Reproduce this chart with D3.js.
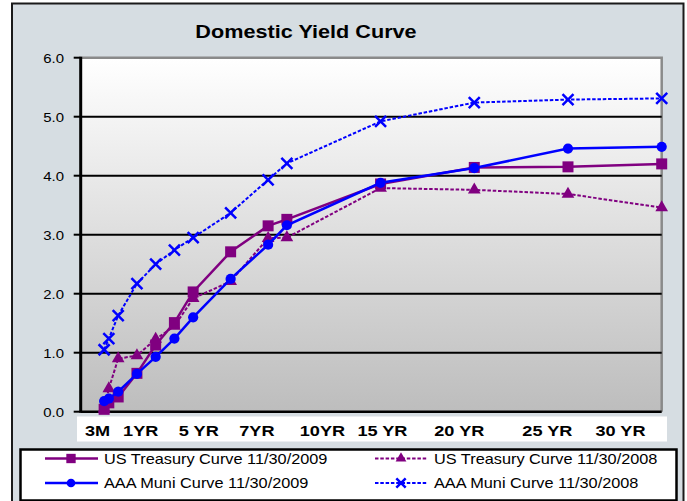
<!DOCTYPE html>
<html><head><meta charset="utf-8">
<script src="https://cdn.jsdelivr.net/npm/d3@7"></script>
<style>html,body{margin:0;padding:0;background:#fff;}svg{display:block;}</style>
</head><body>
<script>
const maturities   = [0.25, 0.5, 1, 2, 3, 4, 5, 7, 9, 10, 15, 20, 25, 30];
const treasury2009 = [0.04, 0.15, 0.25, 0.65, 1.13, 1.51, 2.03, 2.71, 3.15, 3.26, 3.86, 4.14, 4.15, 4.20];
const treasury2008 = [0.05, 0.39, 0.90, 0.95, 1.23, 1.45, 1.92, 2.21, 2.94, 2.95, 3.79, 3.76, 3.69, 3.46];
const muni2009     = [0.18, 0.22, 0.34, 0.64, 0.93, 1.24, 1.60, 2.25, 2.83, 3.16, 3.88, 4.13, 4.46, 4.49];
const muni2008     = [1.05, 1.24, 1.63, 2.17, 2.50, 2.74, 2.95, 3.37, 3.93, 4.21, 4.92, 5.24, 5.29, 5.31];
const seriesNames  = ["US Treasury Curve 11/30/2009", "US Treasury Curve 11/30/2008",
                      "AAA Muni Curve 11/30/2009", "AAA Muni Curve 11/30/2008"];
const xLabels      = ["3M", "1YR", "5 YR", "7YR", "10YR", "15 YR", "20 YR", "25 YR", "30 YR"];
const xLabelAt     = [-0.1, 2.2, 5.3, 8.4, 11.9, 15.1, 19.2, 23.9, 27.8];
const yTicks       = [0, 1, 2, 3, 4, 5, 6];
const title        = "Domestic Yield Curve";

const W = 687, H = 501;
const svg = d3.select("body").append("svg").attr("width", W).attr("height", H);
const FONT = "Arial, 'Liberation Sans', Helvetica, sans-serif";
const SX = 1.16;

function txt(g, x, y, s, o) {
  o = o || {};
  return g.append("text")
    .attr("transform", `translate(${x},${y}) scale(${o.sx || SX},1)`)
    .attr("text-anchor", o.anchor || "start")
    .attr("dominant-baseline", "central")
    .attr("font-family", FONT)
    .attr("font-size", o.size || 13)
    .attr("font-weight", o.weight || "normal")
    .attr("fill", "#000")
    .text(s);
}

// outer chart area
svg.append("rect").attr("x", 12).attr("y", 3.5).attr("width", 671.5).attr("height", 500)
  .attr("fill", "#d6dde2").attr("stroke", "#1a1a1a").attr("stroke-width", 2);

const x = d3.scaleLinear().domain([-1, 30]).range([80.7, 661.7]);
const y = d3.scaleLinear().domain([0, 6]).range([411.7, 57.7]);

// plot background gradient
const defs = svg.append("defs");
const grad = defs.append("linearGradient").attr("id", "pg").attr("x1", 0).attr("y1", 0).attr("x2", 0).attr("y2", 1);
grad.append("stop").attr("offset", "0%").attr("stop-color", "#ffffff");
grad.append("stop").attr("offset", "100%").attr("stop-color", "#bdbdbd");
svg.append("rect").attr("x", x(-1)).attr("y", y(6)).attr("width", x(30) - x(-1)).attr("height", y(0) - y(6))
  .attr("fill", "url(#pg)");
// plot frame (top/right gray)
svg.append("path").attr("d", `M${x(-1)},${y(6)}H${x(30)}V${y(0)}`)
  .attr("fill", "none").attr("stroke", "#8a8a8a").attr("stroke-width", 2.5);

// gridlines
svg.append("g").selectAll("line").data(yTicks.filter(d => d > 0 && d < 6)).join("line")
  .attr("x1", x(-1)).attr("x2", x(30)).attr("y1", d => y(d)).attr("y2", d => y(d))
  .attr("stroke", "#000").attr("stroke-width", 2);

// axes lines + ticks
svg.append("line").attr("x1", x(-1)).attr("x2", x(30)).attr("y1", y(0)).attr("y2", y(0))
  .attr("stroke", "#000").attr("stroke-width", 2.5);
svg.append("line").attr("x1", x(-1)).attr("x2", x(-1)).attr("y1", y(6) - 1).attr("y2", y(0) + 1)
  .attr("stroke", "#000").attr("stroke-width", 3);
svg.append("g").selectAll("line").data(yTicks).join("line")
  .attr("x1", x(-1) - 7).attr("x2", x(-1)).attr("y1", d => y(d)).attr("y2", d => y(d))
  .attr("stroke", "#000").attr("stroke-width", 2);
const fmt = d3.format(".1f");
yTicks.forEach(d => txt(svg, 64, y(d) + 1, fmt(d), { anchor: "end", size: 13, sx: 1.15 }));

// x labels box
svg.append("rect").attr("x", 77).attr("y", 416.5).attr("width", 590).attr("height", 25).attr("fill", "#fff");
xLabels.forEach((s, i) => txt(svg, x(xLabelAt[i]), 431, s, { anchor: "middle", size: 15.5, weight: "bold", sx: 1.17 }));

// title
txt(svg, 306, 32, title, { anchor: "middle", size: 18.5, weight: "bold", sx: 1.17 });

// series
const PURPLE = "#800080", BLUE = "#0000ff";
const series = [
  { name: seriesNames[0], vals: treasury2009, color: PURPLE, dash: null, w: 2.5, marker: "square" },
  { name: seriesNames[1], vals: treasury2008, color: PURPLE, dash: "3.5,1.8", w: 2, marker: "triangle" },
  { name: seriesNames[2], vals: muni2009, color: BLUE, dash: null, w: 2.5, marker: "circle" },
  { name: seriesNames[3], vals: muni2008, color: BLUE, dash: "3.5,1.8", w: 2, marker: "x" }
];
const line = d3.line().x(d => x(d[0])).y(d => y(d[1]));

function drawMarker(g, cx, cy, type, color, k) {
  k = k || 1;
  if (type === "x") {
    const r = 5.5 * k;
    g.append("path").attr("d", `M${cx - r},${cy - r}L${cx + r},${cy + r}M${cx - r},${cy + r}L${cx + r},${cy - r}`)
      .attr("stroke", color).attr("stroke-width", 2.5).attr("fill", "none");
  } else {
    const sym = type === "square" ? d3.symbolSquare : type === "triangle" ? d3.symbolTriangle : d3.symbolCircle;
    const size = (type === "square" ? 121 : type === "triangle" ? 70 : 82) * k * k;
    g.append("path").attr("d", d3.symbol(sym, size)()).attr("transform", `translate(${cx},${cy})`)
      .attr("fill", color);
  }
}

series.forEach(s => {
  const pts = maturities.map((m, i) => [m, s.vals[i]]);
  const g = svg.append("g");
  g.append("path").attr("d", line(pts)).attr("fill", "none").attr("stroke", s.color)
    .attr("stroke-width", s.w).attr("stroke-dasharray", s.dash);
  pts.forEach(p => drawMarker(g, x(p[0]), y(p[1]), s.marker, s.color));
});

// legend
svg.append("rect").attr("x", 20.5).attr("y", 449.5).attr("width", 656).attr("height", 51)
  .attr("fill", "#fff").attr("stroke", "#000").attr("stroke-width", 2.5);
const legPos = [[45, 458.5], [375, 458.5], [45, 483], [375, 483]];
series.forEach((s, i) => {
  const [lx, ly] = legPos[i];
  const g = svg.append("g");
  g.append("line").attr("x1", lx).attr("x2", lx + 53).attr("y1", ly).attr("y2", ly)
    .attr("stroke", s.color).attr("stroke-width", s.w).attr("stroke-dasharray", s.dash);
  drawMarker(g, lx + 26, ly, s.marker, s.color, 0.85);
  txt(g, lx + 59, ly, s.name, { size: 14.3, sx: 1.14 });
});
</script>
</body></html>
